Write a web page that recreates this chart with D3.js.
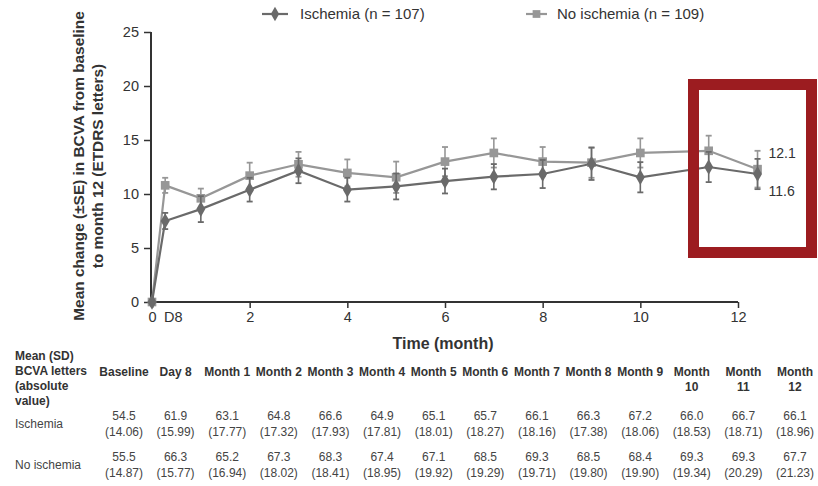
<!DOCTYPE html>
<html><head><meta charset="utf-8">
<script src="https://cdn.jsdelivr.net/npm/d3@7"></script>
<style>
body{margin:0;background:#fff;}
text{font-family:"Liberation Sans",Arial,Helvetica,sans-serif;}
</style></head>
<body><svg id="c" width="818" height="486"></svg>
<script>
// ---- data ----
const timePoints = [0, 0.27, 1, 2, 3, 4, 5, 6, 7, 8, 9, 10, 11.4, 12.4];
const ischemiaMean = [0, 7.5, 8.6, 10.4, 12.15, 10.4, 10.7, 11.2, 11.6, 11.85, 12.8, 11.55, 12.5, 11.85];
const ischemiaSE   = [0, 0.75, 1.2, 1.1, 1.15, 1.1, 1.2, 1.15, 1.17, 1.3, 1.5, 1.4, 1.4, 1.4];
const noIschemiaMean = [0, 10.8, 9.6, 11.7, 12.75, 11.95, 11.55, 13.0, 13.8, 13.0, 12.9, 13.8, 14.0, 12.3];
const noIschemiaSE   = [0, 0.7, 0.9, 1.2, 1.15, 1.25, 1.45, 1.35, 1.35, 1.35, 1.4, 1.35, 1.4, 1.7];
const yTicks = [0, 5, 10, 15, 20, 25];
const xTicks = [0, 2, 4, 6, 8, 10, 12];
const endLabels = ["12.1", "11.6"];
const legendLabels = ["Ischemia (n = 107)", "No ischemia (n = 109)"];
const yTitle = ["Mean change (\u00b1SE) in BCVA from baseline", "to month 12 (ETDRS letters)"];
const xTitle = "Time (month)";

const tableCols = ["Baseline","Day 8","Month 1","Month 2","Month 3","Month 4","Month 5","Month 6","Month 7","Month 8","Month 9","Month 10","Month 11","Month 12"];
const tableHeaderLabel = ["Mean (SD)","BCVA letters","(absolute","value)"];
const tableRowNames = ["Ischemia","No ischemia"];
const ischAbsMean = ["54.5","61.9","63.1","64.8","66.6","64.9","65.1","65.7","66.1","66.3","67.2","66.0","66.7","66.1"];
const ischAbsSD   = ["14.06","15.99","17.77","17.32","17.93","17.81","18.01","18.27","18.16","17.38","18.06","18.53","18.71","18.96"];
const noIschAbsMean = ["55.5","66.3","65.2","67.3","68.3","67.4","67.1","68.5","69.3","68.5","68.4","69.3","69.3","67.7"];
const noIschAbsSD   = ["14.87","15.77","16.94","18.02","18.41","18.95","19.92","19.29","19.71","19.80","19.90","19.34","20.29","21.23"];

// ---- chart ----
const svg = d3.select("#c");
const x = d3.scaleLinear().domain([0, 12]).range([152, 738]);
const y = d3.scaleLinear().domain([0, 25]).range([302, 32]);

const axisColor = "#333";
const cIsch = "#6a6a6a", cNo = "#979797";

// y axis
const ya = svg.append("g").attr("transform", `translate(${x(0)-1},0)`)
  .call(d3.axisLeft(y).tickValues(yTicks).tickSize(7).tickPadding(5));
ya.select(".domain").attr("stroke", axisColor).attr("stroke-width", 2).attr("d", `M0,${y(25)}V${y(0)}`);
ya.selectAll(".tick line").attr("stroke", axisColor).attr("stroke-width", 1.5);
ya.selectAll(".tick text").attr("fill", axisColor).style("font-size", "14.5px").style("font-family", "Liberation Sans, Arial");

// x axis
const xa = svg.append("g").attr("transform", `translate(0,${y(0)})`)
  .call(d3.axisBottom(x).tickValues(xTicks).tickSize(6).tickPadding(4));
xa.select(".domain").attr("stroke", axisColor).attr("stroke-width", 2).attr("d", `M${x(0)-1},0H${x(12)}`);
xa.selectAll(".tick line").attr("stroke", axisColor).attr("stroke-width", 1.5);
xa.selectAll(".tick text").attr("fill", axisColor).style("font-size", "14.5px").style("font-family", "Liberation Sans, Arial");
xa.append("text").attr("x", x(timePoints[1]) + 8).attr("y", 19.5).attr("text-anchor", "middle")
  .attr("fill", axisColor).style("font-size", "14.5px").text("D8");

// titles
svg.append("text").attr("x", 443).attr("y", 349).attr("text-anchor", "middle")
  .attr("font-weight", "bold").attr("fill", axisColor).style("font-size", "16px").text(xTitle);
const yt = svg.append("g").attr("transform", "translate(0,166) rotate(-90)");
yTitle.forEach((t, i) => {
  yt.append("text").attr("x", 0).attr("y", 83.5 + i * 19).attr("text-anchor", "middle")
    .attr("font-weight", "bold").attr("fill", axisColor).style("font-size", "15.4px").text(t);
});

// series
const series = [
  {mean: noIschemiaMean, se: noIschemiaSE, color: cNo, shape: "square"},
  {mean: ischemiaMean, se: ischemiaSE, color: cIsch, shape: "diamond"}
];
const line = d3.line().x(d => x(d.t)).y(d => y(d.v));
series.forEach(s => {
  const pts = timePoints.map((t, i) => ({t, v: s.mean[i], e: s.se[i]}));
  const g = svg.append("g");
  g.append("path").datum(pts).attr("d", line).attr("fill", "none")
    .attr("stroke", s.color).attr("stroke-width", 2.2);
  const eb = g.selectAll(".eb").data(pts.filter(p => p.e > 0)).enter().append("g");
  eb.append("line").attr("x1", d => x(d.t)).attr("x2", d => x(d.t))
    .attr("y1", d => y(d.v + d.e)).attr("y2", d => y(d.v - d.e)).attr("stroke", s.color).attr("stroke-width", 1.6);
  [1, -1].forEach(sg => {
    eb.append("line").attr("x1", d => x(d.t) - 3).attr("x2", d => x(d.t) + 3)
      .attr("y1", d => y(d.v + sg * d.e)).attr("y2", d => y(d.v + sg * d.e))
      .attr("stroke", s.color).attr("stroke-width", 1.8);
  });
  const sym = s.shape === "square" ? d3.symbolSquare : d3.symbolDiamond;
  const size = s.shape === "square" ? 75 : 70;
  g.selectAll(".pt").data(pts).enter().append("path")
    .attr("d", d3.symbol().type(sym).size(size))
    .attr("transform", d => `translate(${x(d.t)},${y(d.v)})`)
    .attr("fill", s.color);
});

// end labels
const lastI = timePoints.length - 1;
svg.append("text").attr("x", x(timePoints[lastI]) + 11).attr("y", y(noIschemiaMean[lastI]) - 11)
  .attr("fill", axisColor).style("font-size", "14px").text(endLabels[0]);
svg.append("text").attr("x", x(timePoints[lastI]) + 11).attr("y", y(ischemiaMean[lastI]) + 22)
  .attr("fill", axisColor).style("font-size", "14px").text(endLabels[1]);

// red highlight box
svg.append("rect").attr("x", 693.5).attr("y", 84.5).attr("width", 118).attr("height", 168)
  .attr("fill", "none").attr("stroke", "#9c1c20").attr("stroke-width", 11);

// legend
const leg = [{x0: 262, color: cIsch, shape: d3.symbolDiamond, tx: 300, label: legendLabels[0]},
             {x0: 526, color: cNo, shape: d3.symbolSquare, tx: 557, label: legendLabels[1]}];
leg.forEach(l => {
  const w = l.shape === d3.symbolDiamond ? 26 : 21;
  svg.append("line").attr("x1", l.x0).attr("x2", l.x0 + w).attr("y1", 14).attr("y2", 14)
    .attr("stroke", l.color).attr("stroke-width", 2.2);
  svg.append("path").attr("d", d3.symbol().type(l.shape).size(60)).attr("transform", `translate(${l.x0 + w/2},14)`).attr("fill", l.color);
  svg.append("text").attr("x", l.tx).attr("y", 19).attr("fill", axisColor).style("font-size", "15px").text(l.label);
});

// ---- table ----
const cx = d3.scalePoint().domain(tableCols).range([124, 795]);
const tFont = "12px";
const tColor = "#444";
const tx0 = 15;
tableHeaderLabel.forEach((t, i) => {
  svg.append("text").attr("x", tx0).attr("y", 359.5 + i * 15.3).attr("font-weight", "bold")
    .attr("fill", "#333").style("font-size", tFont).text(t);
});
tableCols.forEach(c => {
  const parts = c.match(/^Month 1[0-2]$/) ? c.split(" ") : [c];
  parts.forEach((p, j) => {
    svg.append("text").attr("x", cx(c)).attr("y", 376 + j * 15.3).attr("text-anchor", "middle")
      .attr("font-weight", "bold").attr("fill", "#333").style("font-size", tFont).text(p);
  });
});
const rows = [{name: tableRowNames[0], m: ischAbsMean, sd: ischAbsSD, y0: 420},
              {name: tableRowNames[1], m: noIschAbsMean, sd: noIschAbsSD, y0: 461}];
rows.forEach(r => {
  svg.append("text").attr("x", tx0).attr("y", r.y0 + 8).attr("fill", tColor).style("font-size", tFont).text(r.name);
  tableCols.forEach((c, i) => {
    svg.append("text").attr("x", cx(c)).attr("y", r.y0).attr("text-anchor", "middle")
      .attr("fill", tColor).style("font-size", tFont).text(r.m[i]);
    svg.append("text").attr("x", cx(c)).attr("y", r.y0 + 15.5).attr("text-anchor", "middle")
      .attr("fill", tColor).style("font-size", tFont).text("(" + r.sd[i] + ")");
  });
});
</script></body></html>
